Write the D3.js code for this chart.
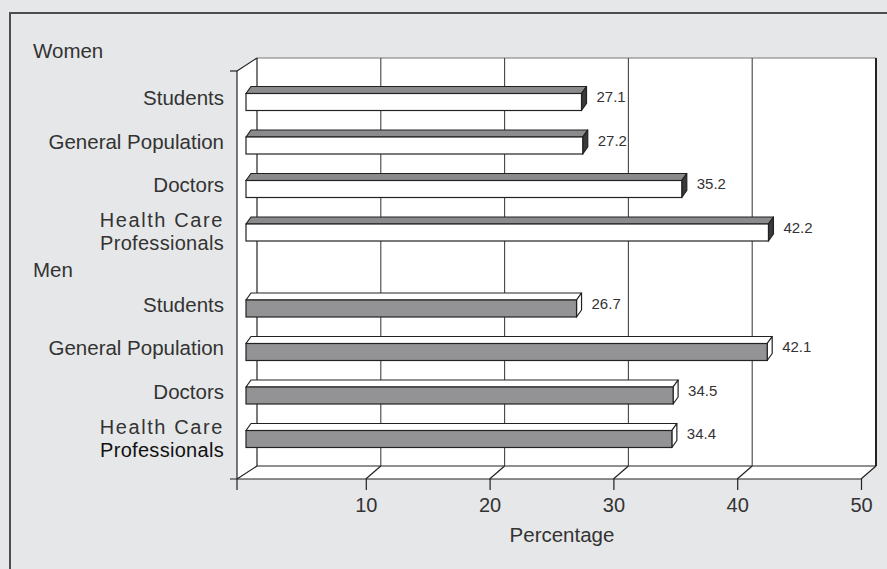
<!DOCTYPE html>
<html lang="en">
<head>
<meta charset="UTF-8">
<title>Percentage by group</title>
<script src="https://d3js.org/d3.v7.min.js"></script>
<style>
  body { margin: 0; background: #e6e7e8; }
  text { font-family: "Liberation Sans", Arial, sans-serif; fill: #333; }
</style>
</head>
<body>
<div id="chart"></div>
<script>
// data
var groups = ["Women", "Men"];
var categories = ["Students", "General Population", "Doctors", "Health Care Professionals"];
var womenValues = [27.1, 27.2, 35.2, 42.2];
var menValues = [26.7, 42.1, 34.5, 34.4];
var xTicks = [10, 20, 30, 40, 50];
var xTitle = "Percentage";

var width = 887, height = 569;

var svg = d3.select("#chart").append("svg")
    .attr("width", width)
    .attr("height", height);

// background + frame
svg.append("rect").attr("width", width).attr("height", height).attr("fill", "#e6e7e8");
svg.append("rect")
    .attr("x", 10).attr("y", 13).attr("width", 900).attr("height", 600)
    .attr("fill", "none").attr("stroke", "#4d4d4d").attr("stroke-width", 2);

// scales
var x = d3.scaleLinear().domain([0, 50]).range([242, 861]);
var yGroup = d3.scalePoint().domain(groups).range([102, 308.5]);
var yRow = d3.scalePoint().domain(categories).range([0, 130.5]);

// 3d depth of the box and of a bar
var depth = {dx: 15, dy: -13};
var barDepth = {dx: 5, dy: -7};
var floorY = 479, topY = 58;
var left = x(0) - 5;          // front-left corner
var backLeft = x(0) + depth.dx;
var backRight = x(50) + depth.dx;
var backFloor = floorY + depth.dy;
var ink = "#222";

// left wall
svg.append("polygon")
    .attr("points", [[left, topY - depth.dy], [backLeft, topY], [backLeft, backFloor], [left, floorY]].join(" "))
    .attr("fill", "#fff");
// back wall
svg.append("rect")
    .attr("x", backLeft).attr("y", topY)
    .attr("width", backRight - backLeft).attr("height", backFloor - topY)
    .attr("fill", "#fff");
// floor
svg.append("polygon")
    .attr("points", [[left, floorY], [backLeft, backFloor], [backRight, backFloor], [x(50), floorY]].join(" "))
    .attr("fill", "#fff");

// back wall edges
svg.append("line").attr("x1", backLeft).attr("x2", backRight).attr("y1", topY).attr("y2", topY)
    .attr("stroke", "#777").attr("stroke-width", 1);
svg.append("line").attr("x1", backLeft).attr("x2", backLeft).attr("y1", topY).attr("y2", backFloor)
    .attr("stroke", ink).attr("stroke-width", 1.2);
svg.append("line").attr("x1", backRight).attr("x2", backRight).attr("y1", topY).attr("y2", backFloor)
    .attr("stroke", ink).attr("stroke-width", 2);
svg.append("line").attr("x1", backLeft).attr("x2", backRight).attr("y1", backFloor).attr("y2", backFloor)
    .attr("stroke", ink).attr("stroke-width", 1.2);

// left wall lines
svg.append("line").attr("x1", left).attr("x2", left).attr("y1", topY - depth.dy).attr("y2", floorY + 11)
    .attr("stroke", ink).attr("stroke-width", 1.2);
svg.append("line").attr("x1", left - 7).attr("x2", left).attr("y1", topY - depth.dy).attr("y2", topY - depth.dy)
    .attr("stroke", ink).attr("stroke-width", 1.2);
svg.append("line").attr("x1", left).attr("x2", backLeft).attr("y1", topY - depth.dy).attr("y2", topY)
    .attr("stroke", ink).attr("stroke-width", 1.2);
svg.append("line").attr("x1", left).attr("x2", backLeft).attr("y1", floorY).attr("y2", backFloor)
    .attr("stroke", ink).attr("stroke-width", 1.2);

// grid lines on back wall + floor diagonals
var grid = svg.append("g");
grid.selectAll("line.v")
  .data(xTicks.filter(function(d) { return d < 50; }))
  .enter().append("line")
    .attr("x1", function(d) { return x(d) + depth.dx; })
    .attr("x2", function(d) { return x(d) + depth.dx; })
    .attr("y1", topY).attr("y2", backFloor)
    .attr("stroke", "#444").attr("stroke-width", 1.1);
grid.selectAll("line.d")
  .data(xTicks)
  .enter().append("line")
    .attr("x1", function(d) { return x(d); })
    .attr("x2", function(d) { return x(d) + depth.dx; })
    .attr("y1", floorY).attr("y2", backFloor)
    .attr("stroke", ink).attr("stroke-width", 1.2);

// front axis
svg.append("line").attr("x1", left - 7).attr("x2", x(50)).attr("y1", floorY).attr("y2", floorY)
    .attr("stroke", ink).attr("stroke-width", 1.2);
var axis = svg.append("g")
    .attr("transform", "translate(0," + floorY + ")")
    .call(d3.axisBottom(x).tickValues(xTicks).tickSize(11).tickPadding(8).tickFormat(d3.format("d")));
axis.select(".domain").remove();
axis.selectAll(".tick line").attr("stroke", ink).attr("stroke-width", 1.2);
axis.selectAll(".tick text")
    .style("font-family", "Liberation Sans, Arial, sans-serif")
    .style("font-size", "20px")
    .attr("fill", "#333");

svg.append("text")
    .attr("x", 562).attr("y", 542)
    .attr("text-anchor", "middle")
    .style("font-size", "20.5px")
    .text(xTitle);

// bars
var rows = [];
groups.forEach(function(g, gi) {
  var vals = gi === 0 ? womenValues : menValues;
  categories.forEach(function(c, i) {
    rows.push({group: g, category: c, value: vals[i], yc: yGroup(g) + yRow(c)});
  });
});

var style = {
  Women: {front: "#ffffff", top: "#8b8b8e", end: "#3a3a3a"},
  Men:   {front: "#939396", top: "#ffffff", end: "#ffffff"}
};

var bars = svg.append("g").selectAll("g")
  .data(rows)
  .enter().append("g");

bars.each(function(d) {
  var g = d3.select(this);
  var x0 = x(0) + 4, x1 = x(d.value) + 4;
  var yt = d.yc - 8.5, yb = d.yc + 8.5;
  var s = style[d.group];
  g.append("polygon")
    .attr("points", [[x0, yt], [x0 + barDepth.dx, yt + barDepth.dy], [x1 + barDepth.dx, yt + barDepth.dy], [x1, yt]].join(" "))
    .attr("fill", s.top).attr("stroke", ink).attr("stroke-width", 1.2).attr("stroke-linejoin", "round");
  g.append("polygon")
    .attr("points", [[x1, yt], [x1 + barDepth.dx, yt + barDepth.dy], [x1 + barDepth.dx, yb + barDepth.dy], [x1, yb]].join(" "))
    .attr("fill", s.end).attr("stroke", ink).attr("stroke-width", 1.2).attr("stroke-linejoin", "round");
  g.append("rect")
    .attr("x", x0).attr("y", yt).attr("width", x1 - x0).attr("height", yb - yt)
    .attr("fill", s.front).attr("stroke", ink).attr("stroke-width", 1.2);
  g.append("text")
    .attr("x", x1 + 15).attr("y", d.yc)
    .style("font-size", "15px")
    .text(d.value.toFixed(1));
});

// category labels
bars.each(function(d) {
  var g = d3.select(this);
  if (d.category === "Health Care Professionals") {
    g.append("text")
      .attr("x", 224).attr("y", d.yc - 5.5)
      .attr("text-anchor", "end")
      .style("font-size", "20px").style("letter-spacing", "1.6px")
      .text("Health Care");
    g.append("text")
      .attr("x", 224).attr("y", d.yc + 17.5)
      .attr("text-anchor", "end")
      .style("font-size", "20px").style("letter-spacing", "0.3px")
      .style("fill", d.group === "Men" ? "#111" : "#333")
      .text("Professionals");
  } else {
    g.append("text")
      .attr("x", 224).attr("y", d.yc + 3)
      .attr("text-anchor", "end")
      .style("font-size", "20.5px")
      .text(d.category);
  }
});

// group headers
svg.selectAll("text.group")
  .data(groups)
  .enter().append("text")
    .attr("class", "group")
    .attr("x", 33)
    .attr("y", function(d, i) { return yGroup(d) - (i === 0 ? 44 : 32); })
    .style("font-size", "20.5px")
    .text(function(d) { return d; });
</script>
</body>
</html>
